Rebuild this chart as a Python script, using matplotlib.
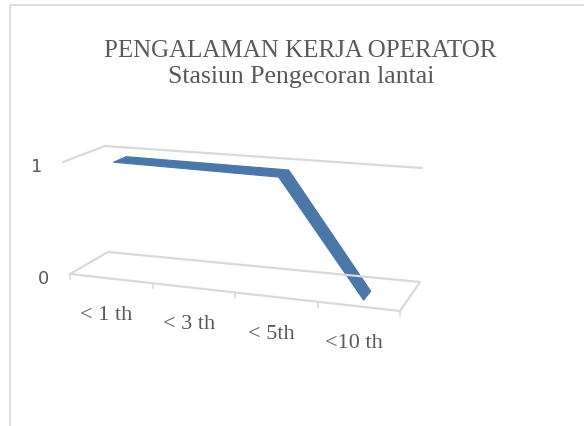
import numpy as np
import matplotlib
matplotlib.use("Agg")
import matplotlib.pyplot as plt
from matplotlib.patches import Polygon

# data
categories = ["< 1 th", "< 3 th", "< 5th", "<10 th"]
values = [1, 1, 1, 0]
yticks = [0, 1]
title1 = "PENGALAMAN KERJA OPERATOR"
title2 = "Stasiun Pengecoran lantai"

W, H = 584, 427
fig = plt.figure(figsize=(W / 100, H / 100), dpi=100)
ax = fig.add_axes([0, 0, 1, 1])
ax.set_xlim(0, W)
ax.set_ylim(H, 0)
ax.axis("off")

# corners of the 3d box in pixels (floor / top plane)
floor = {"F0": (70, 275), "F1": (400, 312), "B0": (108, 253), "B1": (420, 283)}
top = {"F0": (63, 163), "F1": (397, 195), "B0": (105, 147), "B1": (422, 169)}
n = len(categories)


def bil(c, d, q):
    u = c / n
    f = (1 - u) * np.array(q["F0"]) + u * np.array(q["F1"])
    b = (1 - u) * np.array(q["B0"]) + u * np.array(q["B1"])
    return (1 - d) * f + d * b


def proj(c, v, d):
    lo = bil(c, d, floor)
    hi = bil(c, d, top)
    return lo + (v - yticks[0]) / (yticks[-1] - yticks[0]) * (hi - lo)


grid = "#D9D9D9"
# top gridline (side wall + back wall)
pts = np.array([proj(0, 1, 0), proj(0, 1, 1), proj(n, 1, 1)])
ax.plot(pts[:, 0], pts[:, 1], color=grid, lw=1.6, solid_capstyle="round")
# floor
pts = np.array([proj(0, 0, 0), proj(n, 0, 0), proj(n, 0, 1), proj(0, 0, 1), proj(0, 0, 0)])
ax.plot(pts[:, 0], pts[:, 1], color=grid, lw=1.6)
for i in range(n + 1):
    p = proj(i, 0, 0)
    ax.plot([p[0], p[0]], [p[1], p[1] + 5], color=grid, lw=1.2)

# ribbon
d1, d2 = 0.22, 0.54
edge1 = [proj(i + 0.5, v, d1) for i, v in enumerate(values)]
edge2 = [proj(i + 0.5, v, d2) for i, v in enumerate(values)]
ax.add_patch(Polygon(np.array(edge1 + edge2[::-1]), closed=True,
                     facecolor="#4A77A8", edgecolor="#4A77A8", lw=0.8))

# value labels
for v in yticks:
    p = proj(0, v, 0)
    ax.text(p[0] - 21, p[1] + 4, str(v), ha="right", va="center",
            fontsize=13, color="#595959", family="DejaVu Sans")

# category labels
for i, lab in enumerate(categories):
    p = proj(i + 0.5, 0, 0)
    ax.text(p[0] - 5, p[1] + 36, lab, ha="center", va="center",
            fontsize=16, color="#595959", family="Liberation Serif")

ax.text(300, 51, title1, ha="center", va="center", fontsize=18,
        color="#595959", family="Liberation Serif")
ax.text(301, 77, title2, ha="center", va="center", fontsize=18.5,
        color="#595959", family="Liberation Serif")

# chart border (cropped)
ax.plot([10, 10, W], [H, 6, 6], color="#D9D9D9", lw=1.2)

fig.savefig("out.png", dpi=100)
